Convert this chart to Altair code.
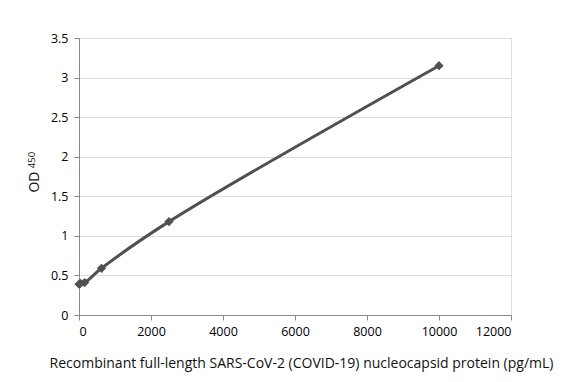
import altair as alt
import pandas as pd

conc = [0, 39, 156, 625, 2500, 10000]
od = [0.39, 0.40, 0.41, 0.59, 1.18, 3.15]

df = pd.DataFrame({"conc": conc, "od": od})

FONT = "Open Sans"
LINE = "#505050"

x = alt.X("conc:Q", scale=alt.Scale(domain=[0, 12000], nice=False),
          axis=alt.Axis(values=[0, 2000, 4000, 6000, 8000, 10000, 12000], format="d",
                        grid=False, title="Recombinant  full-length SARS-CoV-2 (COVID-19) nucleocapsid protein  (pg/mL)",
                        titlePadding=19, titleFontSize=14, titleFontWeight="normal", titleColor="#111111",
                        titleFont=FONT, labelFont=FONT, labelFontSize=12.5,
                        titleX=222, labelPadding=5, tickSize=5))
y = alt.Y("od:Q", scale=alt.Scale(domain=[0, 3.5], nice=False),
          axis=alt.Axis(values=[0, 0.5, 1, 1.5, 2, 2.5, 3, 3.5], format="~g", grid=True,
                        labelFont=FONT, labelFontSize=12.5,
                        title=None, tickSize=5, labelPadding=6))

line = alt.Chart(df).mark_line(color=LINE, strokeWidth=3, interpolate="catmull-rom").encode(x=x, y=y)
pts = alt.Chart(df).mark_point(shape="diamond", filled=True, color=LINE, size=85, opacity=1).encode(x=x, y=y)

title_od = alt.Chart(pd.DataFrame({"t": ["OD"]})).mark_text(
    angle=270, font=FONT, fontSize=14, color="#111111", align="center", baseline="middle"
).encode(x=alt.value(-44), y=alt.value(144), text="t:N")
title_sub = alt.Chart(pd.DataFrame({"t": ["450"]})).mark_text(
    angle=270, font=FONT, fontSize=9.5, color="#111111", align="center", baseline="middle"
).encode(x=alt.value(-47), y=alt.value(122), text="t:N")

chart = alt.layer(line, pts, title_od, title_sub).properties(
    width=432, height=277,
    autosize=alt.AutoSizeParams(type="none"),
    padding={"left": 71, "top": 30, "right": 55, "bottom": 60},
).configure_view(stroke=None).configure_axis(
    labelColor="#222222",
    domainColor="#a6a6a6", tickColor="#a6a6a6", gridColor="#c4c4c4",
).configure(background="white", font=FONT)

chart.save("out.html", embed_options={"renderer": "svg", "actions": False})
